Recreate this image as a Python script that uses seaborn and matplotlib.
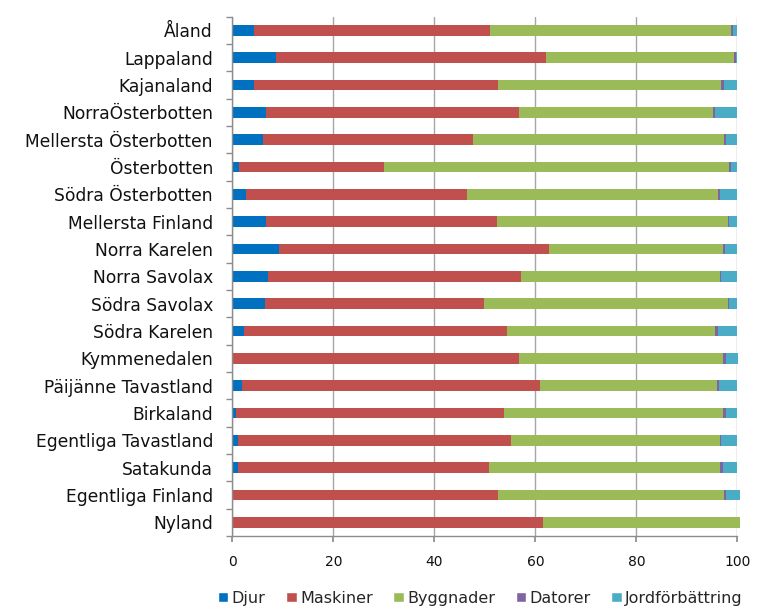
import numpy as np
import pandas as pd
import matplotlib
matplotlib.use("Agg")
import matplotlib.pyplot as plt
import seaborn as sns
from matplotlib.patches import Patch
from matplotlib.ticker import MultipleLocator

# Regions, top to bottom as in the chart
regions = ["Åland", "Lappaland", "Kajanaland", "NorraÖsterbotten",
           "Mellersta Österbotten", "Österbotten", "Södra Österbotten",
           "Mellersta Finland", "Norra Karelen", "Norra Savolax",
           "Södra Savolax", "Södra Karelen", "Kymmenedalen",
           "Päijänne Tavastland", "Birkaland", "Egentliga Tavastland",
           "Satakunda", "Egentliga Finland", "Nyland"]

djur = [4.2, 8.6, 4.2, 6.7, 6.1, 1.4, 2.8, 6.7, 9.2, 7.0,
        6.4, 2.3, 0.0, 2.0, 0.8, 1.1, 1.1, 0.0, 0.0]
maskiner = [46.9, 53.5, 48.5, 50.1, 41.6, 28.7, 43.6, 45.7, 53.5, 50.1,
            43.4, 52.0, 56.8, 58.9, 52.9, 54.1, 49.7, 52.7, 61.5]
byggnader = [47.6, 37.2, 44.1, 38.4, 49.7, 68.3, 49.8, 45.7, 34.5, 39.4,
             48.3, 41.3, 40.3, 35.0, 43.5, 41.3, 45.7, 44.7, 39.1]
datorer = [0.4, 0.4, 0.6, 0.4, 0.4, 0.3, 0.3, 0.3, 0.3, 0.3,
           0.3, 0.6, 0.7, 0.5, 0.6, 0.3, 0.7, 0.4, 0.0]
jord = [0.9, 0.3, 2.6, 4.4, 2.2, 1.3, 3.5, 1.6, 2.5, 3.2,
        1.6, 3.8, 2.4, 3.6, 2.2, 3.2, 2.8, 2.8, 0.0]

series = ["Djur", "Maskiner", "Byggnader", "Datorer", "Jordförbättring"]
colors = ["#0070C0", "#C0504D", "#9BBB59", "#8064A2", "#4BACC6"]

df = pd.DataFrame({"region": regions, "Djur": djur, "Maskiner": maskiner,
                   "Byggnader": byggnader, "Datorer": datorer,
                   "Jordförbättring": jord})
cum = df[series].cumsum(axis=1)
cum["region"] = df["region"]

sns.set_theme(style="white")
plt.rcParams["font.family"] = ["DejaVu Sans"]

fig = plt.figure(figsize=(7.6, 6.09), dpi=100)
ax = fig.add_axes([0.3057, 0.1199, 0.6645, 0.8527])

# stacked bars: draw cumulative totals from the largest down
for name, col in reversed(list(zip(series, colors))):
    sns.barplot(data=cum, x=name, y="region", orient="h", color=col,
                width=0.4, saturation=1, ax=ax, order=regions)
for p in ax.patches:
    p.set_clip_on(False)
    p.set_linewidth(0)

ax.set_xlim(0, 100)
ax.set_ylim(len(regions) - 0.5, -0.5)
ax.xaxis.set_major_locator(MultipleLocator(20))
ax.set_xlabel("")
ax.set_ylabel("")
ax.grid(axis="x", color="#A6A6A6", linewidth=1)
ax.set_axisbelow(True)
for s in ["top", "right"]:
    ax.spines[s].set_visible(False)
for s in ["left", "bottom"]:
    ax.spines[s].set_color("#8C8C8C")
    ax.spines[s].set_linewidth(1)

ax.set_yticks(np.arange(len(regions) + 1) - 0.5, minor=True)
ax.tick_params(axis="y", which="major", length=0, labelsize=12.3, pad=14,
               labelcolor="#111111")
ax.tick_params(axis="y", which="minor", length=4, color="#8C8C8C", left=True)
ax.tick_params(axis="x", which="major", length=4, color="#8C8C8C",
               bottom=True, labelsize=10, labelcolor="#111111", pad=10)

handles = [Patch(facecolor=c, label=n) for n, c in zip(series, colors)]
fig.legend(handles=handles, loc="lower center", ncol=5,
           bbox_to_anchor=(0.632, -0.018), frameon=False, fontsize=11.5,
           handlelength=0.65, handleheight=0.65, handletextpad=0.2,
           columnspacing=1.3)

fig.savefig("out.png", dpi=100)
